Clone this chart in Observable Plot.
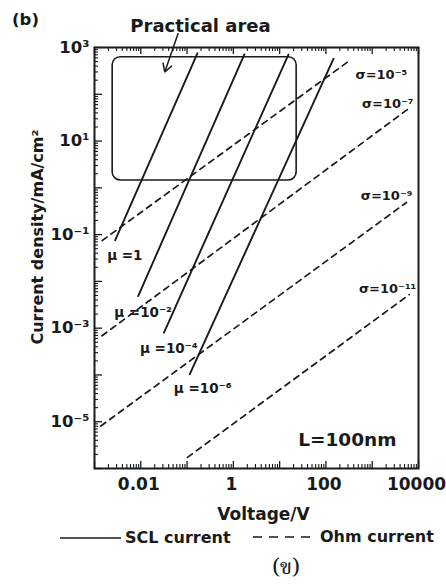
<!DOCTYPE html>
<html>
<head>
<meta charset="utf-8">
<script src="https://cdn.jsdelivr.net/npm/d3@7"></script>
<script src="https://cdn.jsdelivr.net/npm/@observablehq/plot@0.6"></script>
<style>
  body { margin: 0; background: #fff; }
  #wrap { position: relative; width: 446px; height: 587px; background: #fff; color: #1a1a1a;
          font-family: "DejaVu Sans", sans-serif; font-weight: bold; overflow: hidden; }
  .abs { position: absolute; white-space: nowrap; line-height: 1; }
</style>
</head>
<body>
<div id="wrap"></div>
<script>
// ---------- data ----------
// SCL current (solid lines): start point and end point of each line
const sclNames = ["μ =1", "μ =10⁻²", "μ =10⁻⁴", "μ =10⁻⁶"];
const sclV1 = [0.00279, 0.00879, 0.0317, 0.1146];
const sclJ1 = [0.0755, 0.00486, 0.000805, 0.000104];
const sclV2 = [0.167, 1.73, 15.5, 146];
const sclJ2 = [751, 711, 708, 578];

// Ohm current (dashed lines)
const ohmNames = ["σ=10⁻⁵", "σ=10⁻⁷", "σ=10⁻⁹", "σ=10⁻¹¹"];
const ohmV1 = [0.00146, 0.00145, 0.00137, 0.102];
const ohmJ1 = [0.0744, 0.000687, 0.00000809, 0.00000173];
const ohmV2 = [308, 6740, 5500, 6320];
const ohmJ2 = [506, 53, 0.487, 0.00521];

// "Practical area" box and its arrow
const areaV = [0.00247, 23.3];
const areaJ = [1.44, 620];
const arrowV = [0.0637, 0.033];
const arrowJ = [1977, 299];

// axes
const xDomain = [1e-3, 1e4];
const yDomain = [1e-6, 1e3];
const xTickLabels = [0.01, 1, 100, 10000];
const yTickLabels = [1e3, 1e1, 1e-1, 1e-3, 1e-5];

// ---------- label placement (style, kept apart from data) ----------
const sclLabelDx = [-8, -24, -24, -16];
const sclLabelDy = [15, 17, 16, 15];
const ohmLabelAnchor = ["start", "end", "end", "end"];
const ohmLabelDx = [7, 3, 6, 7];
const ohmLabelDy = [13, -3, -7, -6];

// ---------- build tables ----------
const sclRows = sclNames.flatMap((n, i) => [
  {series: n, V: sclV1[i], J: sclJ1[i]},
  {series: n, V: sclV2[i], J: sclJ2[i]}
]);
const ohmRows = ohmNames.flatMap((n, i) => [
  {series: n, V: ohmV1[i], J: ohmJ1[i]},
  {series: n, V: ohmV2[i], J: ohmJ2[i]}
]);

const sup = {"-": "⁻", "0": "⁰", "1": "¹", "2": "²", "3": "³", "4": "⁴", "5": "⁵", "6": "⁶", "7": "⁷", "8": "⁸", "9": "⁹"};
const pow10 = d => "10" + String(Math.round(Math.log10(d))).split("").map(c => sup[c]).join("");

const xAll = d3.scaleLog().domain(xDomain).ticks();
const yAll = d3.scaleLog().domain(yDomain).ticks();
const isDecade = d => Math.abs(Math.log10(d) - Math.round(Math.log10(d))) < 1e-9;
const xMajor = xAll.filter(isDecade), xMinor = xAll.filter(d => !isDecade(d));
const yMajor = yAll.filter(isDecade), yMinor = yAll.filter(d => !isDecade(d));

const W = 446, H = 522;
const mL = 94, mR = 28, mT = 47, mB = 54;
const fw = W - mL - mR, fh = H - mT - mB;
const ink = "#1a1a1a";

const marks = [
  // ticks pointing inward: left, top, bottom
  Plot.tickY(yMajor, {stroke: ink, strokeWidth: 1.3, insetRight: fw - 8}),
  Plot.tickY(yMinor, {stroke: ink, strokeWidth: 1.1, insetRight: fw - 4}),
  Plot.tickX(xMajor, {stroke: ink, strokeWidth: 1.3, insetTop: fh - 7}),
  Plot.tickX(xMinor, {stroke: ink, strokeWidth: 1.1, insetTop: fh - 4}),
  Plot.tickX(xMajor, {stroke: ink, strokeWidth: 1.3, insetBottom: fh - 7}),
  Plot.tickX(xMinor, {stroke: ink, strokeWidth: 1.1, insetBottom: fh - 4}),
  Plot.frame({stroke: ink, strokeWidth: 2}),
  Plot.axisX(xTickLabels, {tickSize: 0, tickPadding: 9, dx: -2, tickFormat: d => String(d),
    fontSize: 17, fontWeight: "bold", label: null}),
  Plot.axisY(yTickLabels, {tickSize: 0, tickPadding: 5, tickFormat: pow10,
    fontSize: 16.5, fontWeight: "bold", label: null}),
  // practical area
  Plot.rect([0], {x1: () => areaV[0], x2: () => areaV[1], y1: () => areaJ[0], y2: () => areaJ[1],
    rx: 8, ry: 8, fill: "none", stroke: ink, strokeWidth: 1.6}),
  Plot.arrow([0], {x1: () => arrowV[0], y1: () => arrowJ[0], x2: () => arrowV[1], y2: () => arrowJ[1],
    stroke: ink, strokeWidth: 1.5, headLength: 9}),
  // lines
  Plot.line(ohmRows, {x: "V", y: "J", z: "series", stroke: ink, strokeWidth: 1.7, strokeDasharray: "6,5"}),
  Plot.line(sclRows, {x: "V", y: "J", z: "series", stroke: ink, strokeWidth: 1.9}),
  // line labels
  ...sclNames.map((n, i) => Plot.text([n], {x: () => sclV1[i], y: () => sclJ1[i], text: d => d,
    textAnchor: "start", lineAnchor: "middle", dx: sclLabelDx[i], dy: sclLabelDy[i], fontSize: 13.5, fontWeight: "bold", fill: ink})),
  ...ohmNames.map((n, i) => Plot.text([n], {x: () => ohmV2[i], y: () => ohmJ2[i], text: d => d,
    textAnchor: ohmLabelAnchor[i], lineAnchor: "middle", dx: ohmLabelDx[i], dy: ohmLabelDy[i], fontSize: 13, fontWeight: "bold", fill: ink})),
  // annotations
  Plot.text(["L=100nm"], {frameAnchor: "bottom-right", textAnchor: "end", lineAnchor: "middle", dx: -22, dy: -28,
    fontSize: 18.5, fontWeight: "bold", fill: ink}),
  Plot.text(["Practical area"], {frameAnchor: "top-left", textAnchor: "middle", lineAnchor: "middle", dx: 106, dy: -21,
    fontSize: 18, fontWeight: "bold", fill: ink}),
  Plot.text(["(b)"], {frameAnchor: "top-left", textAnchor: "middle", lineAnchor: "middle", dx: -69, dy: -28,
    fontSize: 16.5, fontWeight: "bold", fill: ink}),
  // axis titles
  Plot.text(["Voltage/V"], {frameAnchor: "bottom", textAnchor: "middle", lineAnchor: "middle", dx: 7, dy: 46,
    fontSize: 17, fontWeight: "bold", fill: ink}),
  Plot.text(["Current density/mA/cm²"], {frameAnchor: "left", textAnchor: "middle", lineAnchor: "middle",
    rotate: -90, dx: -57, dy: -21, fontSize: 16, fontWeight: "bold", fill: ink})
];

const chart = Plot.plot({
  width: W, height: H,
  marginLeft: mL, marginRight: mR, marginTop: mT, marginBottom: mB,
  x: {type: "log", domain: xDomain},
  y: {type: "log", domain: yDomain},
  style: {fontFamily: "DejaVu Sans, sans-serif", fontWeight: "bold", color: ink, background: "#fff", overflow: "visible"},
  marks
});
chart.style.position = "absolute";
chart.style.left = "0px";
chart.style.top = "0px";

const wrap = document.getElementById("wrap");
wrap.appendChild(chart);

// legend and caption below the chart
const legendHTML = `
  <svg class="abs" style="left:60px;top:531px" width="62" height="14"><line x1="0" x2="61" y1="7" y2="7" stroke="${ink}" stroke-width="1.6"/></svg>
  <div class="abs" style="left:125px;top:530px;font-size:16px">SCL current</div>
  <svg class="abs" style="left:253px;top:530px" width="66" height="14"><line x1="0" x2="64" y1="7" y2="7" stroke="${ink}" stroke-width="1.6" stroke-dasharray="9,7"/></svg>
  <div class="abs" style="left:320px;top:529px;font-size:16px">Ohm current</div>
  <div class="abs" style="left:286px;top:569px;transform:translate(-50%,-50%);font-size:22px;font-weight:normal;font-family:'Noto Serif Thai','Noto Sans Thai','Loma','Garuda','Liberation Serif',serif">(ข)</div>
`;
wrap.insertAdjacentHTML("beforeend", legendHTML);
</script>
</body>
</html>
